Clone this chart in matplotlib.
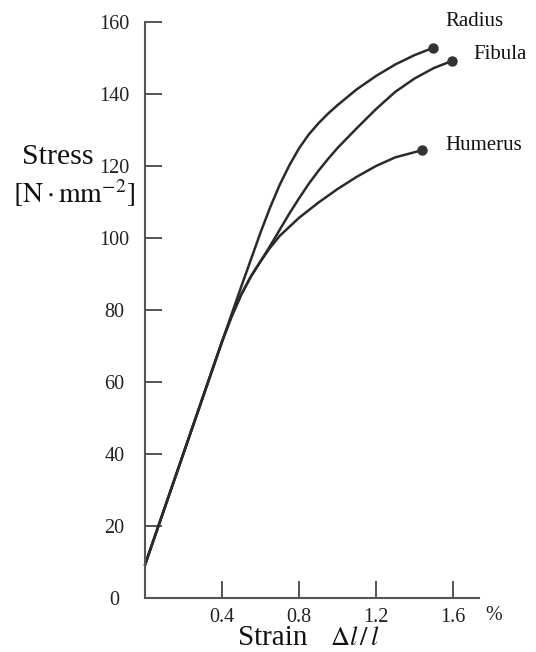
import matplotlib
matplotlib.use("Agg")
import matplotlib.pyplot as plt

# ---- data ----
radius_strain = [0.0, 0.2, 0.4, 0.5, 0.6, 0.65, 0.7, 0.75, 0.8, 0.85, 0.9, 0.95,
                 1.0, 1.1, 1.2, 1.3, 1.4, 1.496]
radius_stress = [9.2, 40.2, 71.2, 86.5, 101.5, 108.5, 114.8, 120.2, 124.9, 128.7,
                 131.8, 134.5, 136.9, 141.3, 145.0, 148.2, 150.8, 152.8]

fibula_strain = [0.0, 0.2, 0.4, 0.45, 0.5, 0.55, 0.6, 0.65, 0.7, 0.75, 0.8, 0.85,
                 0.9, 0.95, 1.0, 1.1, 1.2, 1.3, 1.4, 1.5, 1.595]
fibula_stress = [9.2, 40.2, 71.2, 78.2, 84.3, 89.3, 93.5, 97.8, 102.3, 106.8,
                 111.0, 115.0, 118.6, 121.9, 125.0, 130.5, 135.8, 140.6, 144.3,
                 147.2, 149.2]

humerus_strain = [0.0, 0.2, 0.4, 0.45, 0.5, 0.55, 0.6, 0.65, 0.7, 0.8, 0.9, 1.0,
                  1.1, 1.2, 1.3, 1.44]
humerus_stress = [9.2, 40.2, 71.2, 78.2, 84.3, 89.3, 93.5, 97.3, 100.6, 105.6,
                  109.8, 113.6, 117.0, 120.0, 122.4, 124.4]

curve_names = ["Radius", "Fibula", "Humerus"]
label_pos = [(1.558, 160.1), (1.704, 151.0), (1.558, 125.8)]

x_ticks = [0.4, 0.8, 1.2, 1.6]
x_ticklabels = ["0.4", "0.8", "1.2", "1.6"]
y_ticks = [0, 20, 40, 60, 80, 100, 120, 140, 160]
y_ticklabels = ["0", "20", "40", "60", "80", "100", "120", "140", "160"]

plt.rcParams['font.family'] = ['Liberation Serif', 'DejaVu Serif']
plt.rcParams['mathtext.fontset'] = 'stix'

W, H = 536, 652
fig = plt.figure(figsize=(W / 100, H / 100), dpi=100)
fig.patch.set_facecolor('white')
ax = fig.add_axes([145 / W, 54 / H, 334 / W, 576 / H])
ax.set_xlim(0, 1.735)
ax.set_ylim(0, 160)

line_col = '#2b2b2b'
axis_col = '#555555'

curves = [(radius_strain, radius_stress), (fibula_strain, fibula_stress),
          (humerus_strain, humerus_stress)]
for xs, ys in curves:
    ax.plot(xs, ys, color=line_col, lw=1.8,
            solid_capstyle='round', solid_joinstyle='round', clip_on=False)
    ax.plot([xs[-1]], [ys[-1]], 'o', color='#333333', ms=6.5, clip_on=False)

for name, (lx, ly) in zip(curve_names, label_pos):
    ax.text(lx, ly, name, fontsize=15, ha='left', va='center', color='#111111',
            clip_on=False)

for s in ['top', 'right']:
    ax.spines[s].set_visible(False)
for s in ['left', 'bottom']:
    ax.spines[s].set_color(axis_col)
    ax.spines[s].set_linewidth(1.5)

ax.set_xticks(x_ticks)
ax.set_xticklabels(x_ticklabels)
ax.set_yticks(y_ticks)
ax.set_yticklabels(y_ticklabels)
ax.tick_params(axis='both', direction='in', length=12.5, width=1.4,
               color=axis_col, labelsize=14.5, labelcolor='#222222')
ax.tick_params(axis='x', pad=7)
ax.tick_params(axis='y', pad=22)
for t in ax.get_yticklabels():
    t.set_ha('center')
# hide the y tick at 0 (coincides with x axis)
ax.yaxis.get_major_ticks()[0].tick1line.set_visible(False)

fig.text(485 / W, 1 - 615 / H, "%", fontsize=14.5, ha='left', va='center',
         color='#222222')

# axis titles
fig.text(58 / W, 1 - 157 / H, "Stress", fontsize=21.5, ha='center', va='center',
         color='#111111')
fig.text(74 / W, 1 - 193 / H, r"$[\mathrm{N\cdot mm^{-2}}]$", fontsize=20,
         ha='center', va='center', color='#111111')
fig.text(238 / W, 1 - 645 / H, "Strain", fontsize=21, ha='left', va='baseline',
         color='#111111')
fig.text(330 / W, 1 - 645 / H, r"$\Delta l\,/\,l$", fontsize=19, ha='left',
         va='baseline', color='#111111')

fig.savefig("out.png", dpi=100, facecolor='white')
